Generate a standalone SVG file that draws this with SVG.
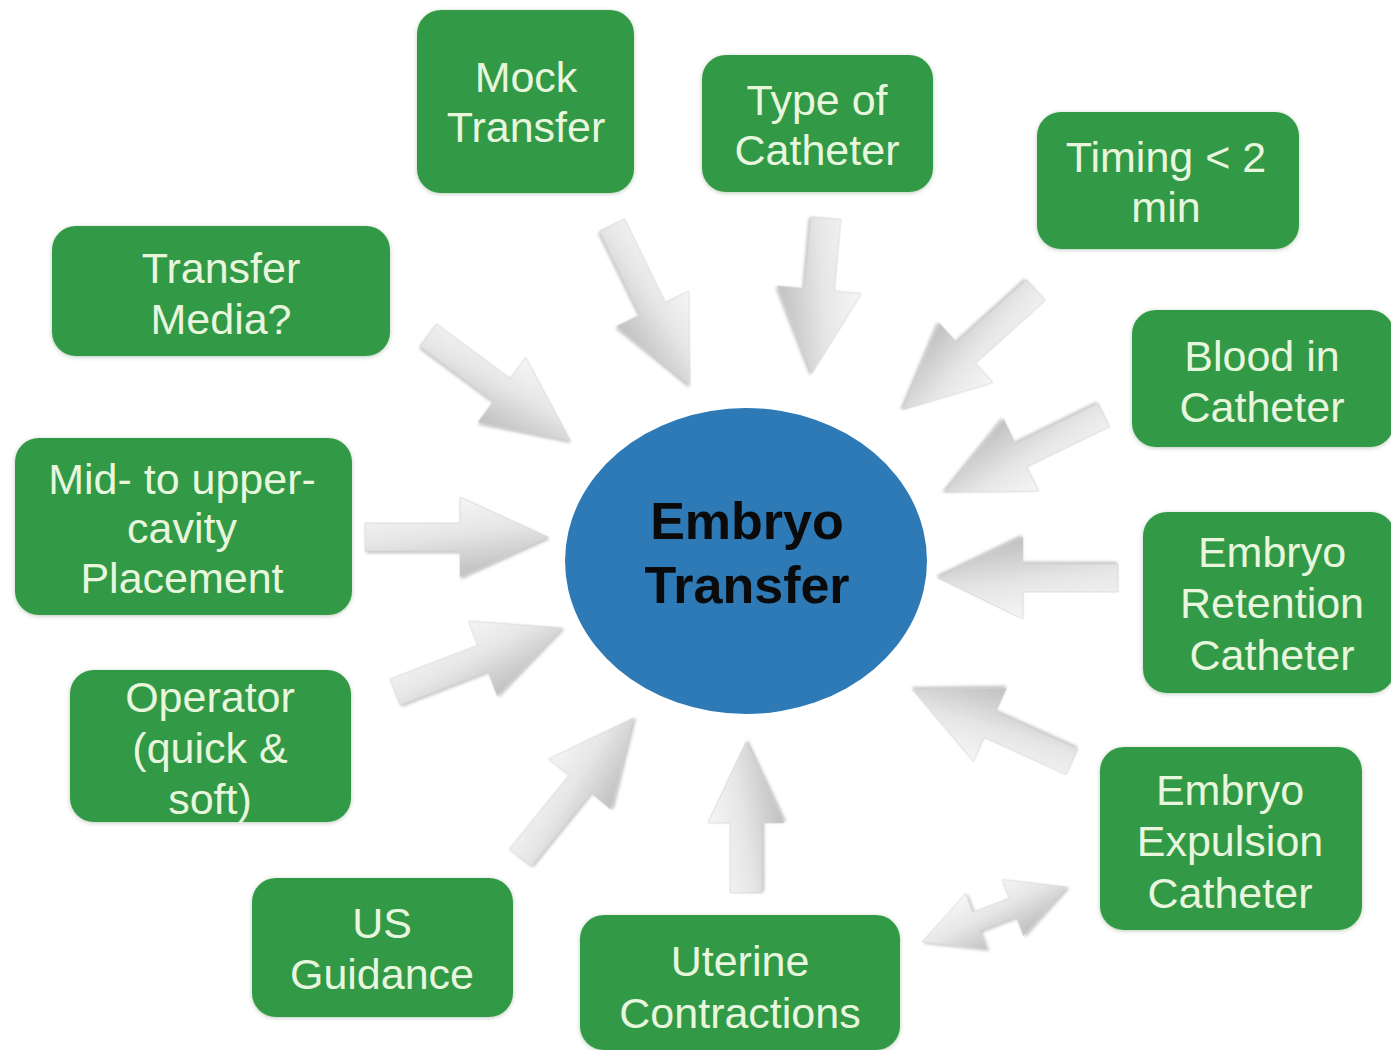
<svg xmlns="http://www.w3.org/2000/svg" width="1391" height="1050" viewBox="0 0 1391 1050">
<defs>
<linearGradient id="ag" x1="0" y1="0" x2="0.3" y2="1">
<stop offset="0" stop-color="#fbfbfb"/>
<stop offset="0.55" stop-color="#e6e6e6"/>
<stop offset="1" stop-color="#c4c4c4"/>
</linearGradient>
<filter id="sh" x="-20%" y="-20%" width="140%" height="140%">
<feDropShadow dx="1.5" dy="2" stdDeviation="1.8" flood-color="#7a7a7a" flood-opacity="0.45"/>
</filter>
<filter id="bsh" x="-10%" y="-10%" width="120%" height="120%">
<feDropShadow dx="0" dy="1" stdDeviation="2" flood-color="#3a6a3a" flood-opacity="0.35"/>
</filter>
</defs>
<style>
.box{fill:#339a47;filter:url(#bsh)}
.lbl{font-family:"Liberation Sans",Arial,sans-serif;font-size:43px;fill:#e8f6de;text-anchor:middle}
.ctr{font-family:"Liberation Sans",Arial,sans-serif;font-size:52px;font-weight:bold;fill:#0a0a0a;text-anchor:middle}
.arr{fill:url(#ag);stroke:#d2d2d2;stroke-width:0.6;filter:url(#sh)}
</style>
<rect width="1391" height="1050" fill="#ffffff"/>

<g id="connectors">
<!-- Transfer Media -->
<path class="arr" transform="translate(428,335) rotate(36.5)" d="M0,-14 L92,-14 L92,-40 L177,0 L92,40 L92,14 L0,14 Z"/>
<!-- Mock Transfer -->
<path class="arr" transform="translate(612,225) rotate(64)" d="M0,-14 L93,-14 L93,-40 L178,0 L93,40 L93,14 L0,14 Z"/>
<!-- Type of Catheter -->
<path class="arr" transform="translate(826,218) rotate(95.2)" d="M0,-15 L72,-15 L72,-42 L156,0 L72,42 L72,15 L0,15 Z"/>
<!-- Timing -->
<path class="arr" transform="translate(1036,290) rotate(138)" d="M0,-14 L94,-14 L94,-40 L179,0 L94,40 L94,14 L0,14 Z"/>
<!-- Blood in Catheter -->
<path class="arr" transform="translate(1104,415) rotate(154)" d="M0,-13 L92,-13 L92,-40 L177,0 L92,40 L92,13 L0,13 Z"/>
<!-- Embryo Retention -->
<path class="arr" transform="translate(1118,578) rotate(180)" d="M0,-14 L95,-14 L95,-41 L180,0 L95,41 L95,14 L0,14 Z"/>
<!-- Embryo Expulsion -->
<path class="arr" transform="translate(1072,762) rotate(204.4)" d="M0,-14 L90,-14 L90,-40 L175,0 L90,40 L90,14 L0,14 Z"/>
<!-- Double arrow Uterine <-> Expulsion -->
<path class="arr" transform="translate(922,942) rotate(-20.8)" d="M0,0 L58,-30 L58,-10 L97,-10 L97,-30 L155,0 L97,30 L97,10 L58,10 L58,30 Z"/>
<!-- Uterine Contractions -->
<path class="arr" transform="translate(746,893) rotate(-90)" d="M0,-16 L70,-16 L70,-38 L151,0 L70,38 L70,16 L0,16 Z"/>
<!-- US Guidance -->
<path class="arr" transform="translate(520,858) rotate(-51)" d="M0,-14 L95,-14 L95,-40 L180,0 L95,40 L95,14 L0,14 Z"/>
<!-- Operator -->
<path class="arr" transform="translate(395,692) rotate(-21)" d="M0,-14 L94,-14 L94,-40 L179,0 L94,40 L94,14 L0,14 Z"/>
<!-- Mid-to-upper -->
<path class="arr" transform="translate(365,537) rotate(0)" d="M0,-14 L95,-14 L95,-40 L183,0 L95,40 L95,14 L0,14 Z"/>
</g>

<g id="center">
<ellipse cx="746" cy="561" rx="181" ry="153" fill="#2e7ab6"/>
<text class="ctr" x="747" y="539">Embryo</text>
<text class="ctr" x="747" y="603">Transfer</text>
</g>

<g id="mock-transfer">
<rect class="box" x="417" y="10" width="217" height="183" rx="24"/>
<text class="lbl" x="526" y="92">Mock</text>
<text class="lbl" x="526" y="142">Transfer</text>
</g>

<g id="type-of-catheter">
<rect class="box" x="702" y="55" width="231" height="137" rx="24"/>
<text class="lbl" x="817" y="115">Type of</text>
<text class="lbl" x="817" y="165">Catheter</text>
</g>

<g id="timing">
<rect class="box" x="1037" y="112" width="262" height="137" rx="24"/>
<text class="lbl" x="1166" y="172">Timing &lt; 2</text>
<text class="lbl" x="1166" y="222">min</text>
</g>

<g id="transfer-media">
<rect class="box" x="52" y="226" width="338" height="130" rx="24"/>
<text class="lbl" x="221" y="283">Transfer</text>
<text class="lbl" x="221" y="334">Media?</text>
</g>

<g id="blood-in-catheter">
<rect class="box" x="1132" y="310" width="262" height="137" rx="24"/>
<text class="lbl" x="1262" y="371">Blood in</text>
<text class="lbl" x="1262" y="422">Catheter</text>
</g>

<g id="mid-upper-placement">
<rect class="box" x="15" y="438" width="337" height="177" rx="24"/>
<text class="lbl" x="182" y="494">Mid- to upper-</text>
<text class="lbl" x="182" y="543">cavity</text>
<text class="lbl" x="182" y="593">Placement</text>
</g>

<g id="embryo-retention">
<rect class="box" x="1143" y="512" width="252" height="181" rx="24"/>
<text class="lbl" x="1272" y="567">Embryo</text>
<text class="lbl" x="1272" y="618">Retention</text>
<text class="lbl" x="1272" y="670">Catheter</text>
</g>

<g id="operator">
<rect class="box" x="70" y="670" width="281" height="152" rx="24"/>
<text class="lbl" x="210" y="712">Operator</text>
<text class="lbl" x="210" y="763">(quick &amp;</text>
<text class="lbl" x="210" y="814">soft)</text>
</g>

<g id="embryo-expulsion">
<rect class="box" x="1100" y="747" width="262" height="183" rx="24"/>
<text class="lbl" x="1230" y="805">Embryo</text>
<text class="lbl" x="1230" y="856">Expulsion</text>
<text class="lbl" x="1230" y="908">Catheter</text>
</g>

<g id="us-guidance">
<rect class="box" x="252" y="878" width="261" height="139" rx="24"/>
<text class="lbl" x="382" y="938">US</text>
<text class="lbl" x="382" y="989">Guidance</text>
</g>

<g id="uterine-contractions">
<rect class="box" x="580" y="915" width="320" height="135" rx="24"/>
<text class="lbl" x="740" y="976">Uterine</text>
<text class="lbl" x="740" y="1028">Contractions</text>
</g>
</svg>
